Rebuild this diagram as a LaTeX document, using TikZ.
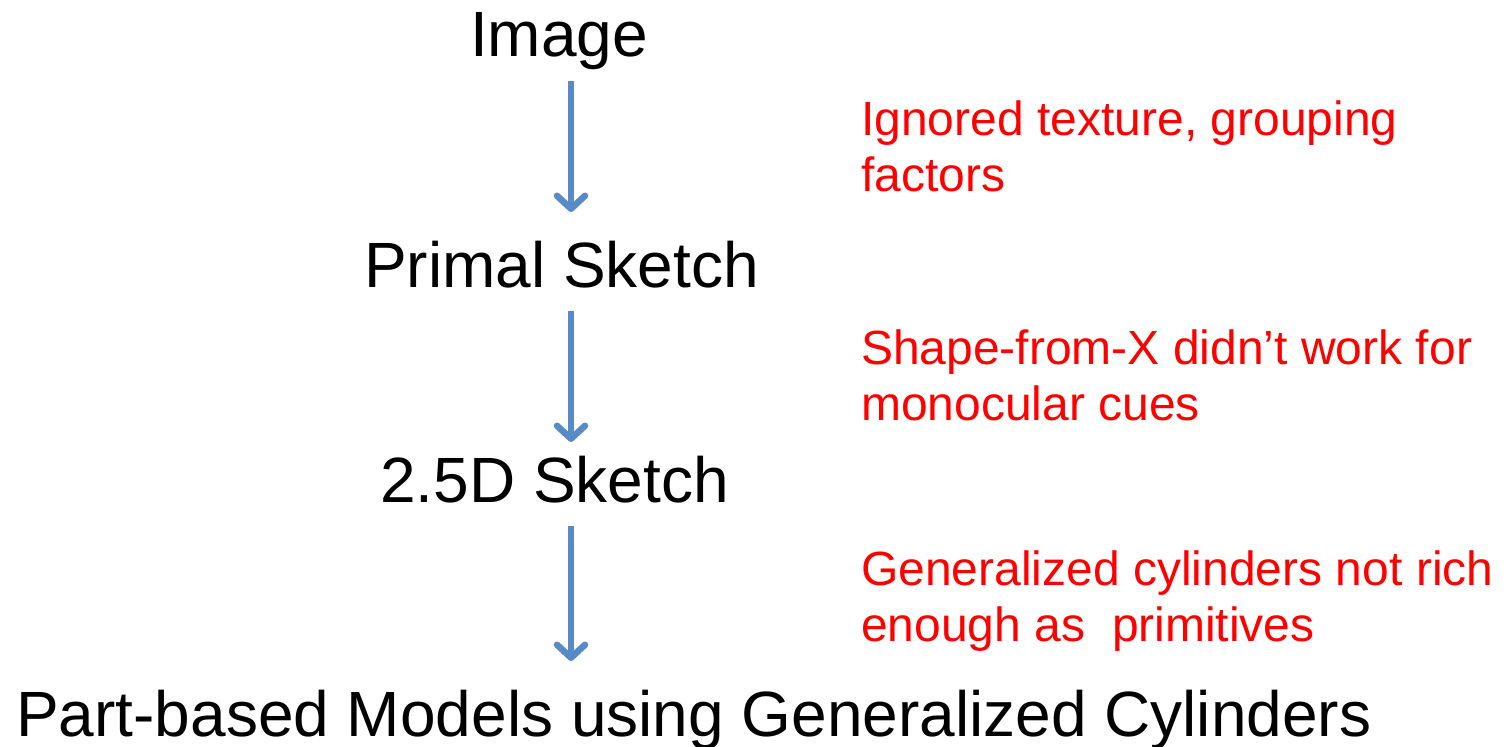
\documentclass[tikz,border=0pt]{standalone}
\usepackage{fontspec}
\setmainfont{Liberation Sans}
\usetikzlibrary{arrows.meta}
\definecolor{flowblue}{RGB}{88,138,200}
\definecolor{notered}{RGB}{255,0,0}
\tikzset{
  stage/.style={inner sep=0pt, anchor=base west, font=\fontsize{64}{72}\selectfont, text=black},
  note/.style={inner sep=0pt, anchor=north west, align=left, font=\fontsize{48}{56}\selectfont, text=notered},
  flow/.style={draw=flowblue, line width=6.5pt,
    -{Straight Barb[length=13pt, width=28pt, line width=6.5pt, line cap=round, line join=round]}}
}
\begin{document}
\begin{tikzpicture}[x=1pt, y=-1pt]
  \useasboundingbox (0,0) rectangle (1508,747);

  % pipeline stages
  \node[stage] (img)      at (470,56)  {Image};
  \node[stage] (primal)   at (364,287) {Primal Sketch};
  \node[stage] (sketch)   at (380,502) {2.5D Sketch};
  \node[stage] (parts)    at (16,736)  {Part-based Models using Generalized Cylinders};

  % remarks beside each step (top edge of the first line)
  \node[note] (n1) at (861,101) {Ignored texture, grouping\\factors};
  \node[note] (n2) at (861,330) {Shape-from-X didn’t work for\\monocular cues};
  \node[note] (n3) at (861,551) {Generalized cylinders not rich\\enough as\ \ primitives};

  % arrow end points
  \coordinate (a1s) at (571,81);
  \coordinate (a1e) at (571,212);
  \coordinate (a2s) at (571,311);
  \coordinate (a2e) at (571,442);
  \coordinate (a3s) at (571,526);
  \coordinate (a3e) at (571,661);

  \draw[flow] (a1s) -- (a1e);
  \draw[flow] (a2s) -- (a2e);
  \draw[flow] (a3s) -- (a3e);
\end{tikzpicture}
\end{document}
